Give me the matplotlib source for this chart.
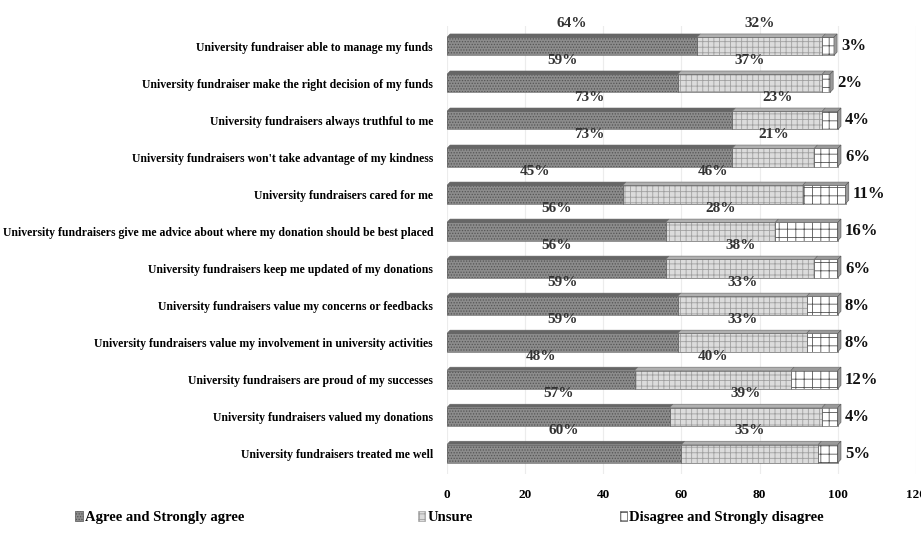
import matplotlib
matplotlib.use("Agg")
import matplotlib.pyplot as plt
from matplotlib.patches import Polygon, Patch
import numpy as np

plt.rcParams['font.family'] = ['Liberation Serif', 'DejaVu Serif']
plt.rcParams['font.weight'] = 'bold'
plt.rcParams['hatch.linewidth'] = 0.6

categories = [
    "University fundraiser able to manage my funds",
    "University fundraiser make the right decision of my funds",
    "University fundraisers always truthful to me",
    "University fundraisers won't take advantage of my kindness",
    "University fundraisers cared for me",
    "University fundraisers give me advice about where my donation should be best placed",
    "University fundraisers keep me updated of my donations",
    "University fundraisers value my concerns or feedbacks",
    "University fundraisers value my involvement in university activities",
    "University fundraisers are proud of my successes",
    "University fundraisers valued my donations",
    "University fundraisers treated me well",
]
agree = [64, 59, 73, 73, 45, 56, 56, 59, 59, 48, 57, 60]
unsure = [32, 37, 23, 21, 46, 28, 38, 33, 33, 40, 39, 35]
disagree = [3, 2, 4, 6, 11, 16, 6, 8, 8, 12, 4, 5]
series_names = ["Agree and Strongly agree", "Unsure", "Disagree and Strongly disagree"]
x_ticks = [0, 20, 40, 60, 80, 100, 120]

styles = [
    dict(face="#8c8c8c", hatch="......", hcol="#555555", top="#666666"),
    dict(face="#dcdcdc", hatch="+++", hcol="#a0a0a0", top="#b0b0b0"),
    dict(face="#ffffff", hatch="++", hcol="#555555", top="#9a9a9a"),
]

fig = plt.figure(figsize=(9.21, 5.36), dpi=100)
ax = fig.add_axes([0.4853, 0.1157, 0.5093, 0.8358])

y = np.arange(len(categories))
h = 0.49
dx, dy = 0.8, 0.09  # depth of the 3-D top and side faces

ax.set_xlim(0, 120)
ax.set_ylim(11.55, -0.55)
for xt in x_ticks:
    ax.axvline(xt, color="#ececec", lw=0.8, zorder=0)

for s, vals in enumerate([agree, unsure, disagree]):
    st = styles[s]
    lefts = np.sum([agree, unsure, disagree][:s], axis=0) if s else np.zeros(len(vals))
    ax.barh(y, vals, left=lefts, height=h, color=st["face"], hatch=st["hatch"],
            edgecolor=st["hcol"], linewidth=0, zorder=2)
    ax.barh(y, vals, left=lefts, height=h, fill=False, edgecolor="#666666",
            linewidth=0.5, zorder=3)
    for yi, l, v in zip(y, lefts, vals):
        top = yi - h / 2
        ax.add_patch(Polygon([(l, top), (l + v, top), (l + v + dx, top - dy), (l + dx, top - dy)],
                             closed=True, facecolor=st["top"], edgecolor="#666666",
                             linewidth=0.4, zorder=3))
        if s == 2:
            r = l + v
            ax.add_patch(Polygon([(r, top), (r + dx, top - dy), (r + dx, yi + h / 2 - dy), (r, yi + h / 2)],
                                 closed=True, facecolor="#9a9a9a", edgecolor="#555555",
                                 linewidth=0.4, zorder=3))

# value labels
for yi, a, u, d in zip(y, agree, unsure, disagree):
    ax.text(a / 2, yi - 0.62, f"{a}%", ha="center", va="center", fontsize=11,
            color="#333333", clip_on=False)
    ax.text(a + u / 2, yi - 0.62, f"{u}%", ha="center", va="center", fontsize=11,
            color="#333333", clip_on=False)
    ax.text(a + u + d + 1.8, yi, f"{d}%", ha="left", va="center", fontsize=12,
            color="#111111", clip_on=False)

ax.set_yticks(y)
ax.set_yticklabels(categories, fontsize=8.5)
ax.set_xticks(x_ticks)
ax.set_xticklabels([str(t) for t in x_ticks], fontsize=9.5)
ax.tick_params(axis="both", length=0)
ax.tick_params(axis="y", pad=10)
ax.tick_params(axis="x", pad=11)
for sp in ax.spines.values():
    sp.set_visible(False)

# legend entries, one per series
legend_x = [0.074, 0.446, 0.665]
for s, name in enumerate(series_names):
    st = styles[s]
    handle = Patch(facecolor=st["face"], hatch=st["hatch"], edgecolor=st["hcol"], linewidth=0.5)
    fig.legend(handles=[handle], labels=[name], loc="center left",
               bbox_to_anchor=(legend_x[s], 0.034), frameon=False, fontsize=10.5,
               handlelength=0.5, handleheight=0.7, handletextpad=0.15, borderpad=0)

fig.savefig("out.png", dpi=100)
